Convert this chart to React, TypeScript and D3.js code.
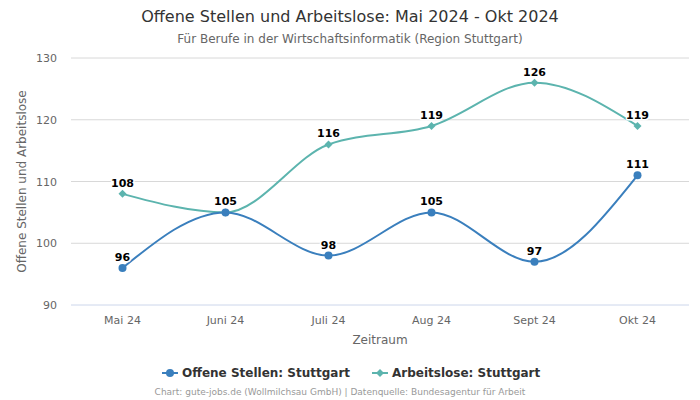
import React from "react";
import * as d3 from "d3";

const categories = ["Mai 24", "Juni 24", "Juli 24", "Aug 24", "Sept 24", "Okt 24"];
const offeneStellen = [96, 105, 98, 105, 97, 111];
const arbeitslose = [108, 105, 116, 119, 126, 119];
const yTicks = [90, 100, 110, 120, 130];

const W = 700, H = 400;
const left = 71, right = 689, top = 58, bottom = 305;
const font = "DejaVu Sans, sans-serif";
const blue = "#3a7fbd";
const teal = "#5cb4ae";

export default function App() {
  const x = d3.scaleBand().domain(categories).range([left, right]);
  const y = d3.scaleLinear().domain([90, 130]).range([bottom, top]);
  const cx = (c: string) => (x(c) as number) + x.bandwidth() / 2;
  const line = d3
    .line<number>()
    .x((_, i) => cx(categories[i]))
    .y((d) => y(d))
    .curve(d3.curveMonotoneX);

  const labelStyle: React.CSSProperties = {
    fontFamily: font,
    fontSize: 11,
    fontWeight: "bold",
    fill: "#000",
    stroke: "#fff",
    strokeWidth: 3,
    paintOrder: "stroke",
    strokeLinejoin: "round",
  };

  return (
    <svg width={W} height={H} style={{ position: "absolute", left: 0, top: 0 }}>
      <rect width={W} height={H} fill="#fff" />
      <text x={350} y={22} textAnchor="middle" fontFamily={font} fontSize={16} fill="#333">
        Offene Stellen und Arbeitslose: Mai 2024 - Okt 2024
      </text>
      <text x={350} y={43} textAnchor="middle" fontFamily={font} fontSize={12} fill="#666">
        Für Berufe in der Wirtschaftsinformatik (Region Stuttgart)
      </text>
      {yTicks.map((t) => (
        <g key={t}>
          <line x1={left} x2={right} y1={y(t)} y2={y(t)} stroke={t === 90 ? "#ccd6eb" : "#d8d8d8"} strokeWidth={1} />
          <text x={57} y={y(t) + 4} textAnchor="end" fontFamily={font} fontSize={11} fill="#666">
            {t}
          </text>
        </g>
      ))}
      {categories.map((c) => (
        <text key={c} x={cx(c)} y={324} textAnchor="middle" fontFamily={font} fontSize={11} fill="#666">
          {c}
        </text>
      ))}
      <text x={380} y={344} textAnchor="middle" fontFamily={font} fontSize={12} fill="#666">
        Zeitraum
      </text>
      <text
        transform={`translate(26,${(top + bottom) / 2}) rotate(-90)`}
        textAnchor="middle"
        fontFamily={font}
        fontSize={12}
        fill="#666"
      >
        Offene Stellen und Arbeitslose
      </text>

      <path d={line(arbeitslose) || ""} fill="none" stroke={teal} strokeWidth={2} />
      <path d={line(offeneStellen) || ""} fill="none" stroke={blue} strokeWidth={2} />
      {arbeitslose.map((v, i) => {
        const px = cx(categories[i]), py = y(v);
        return (
          <path key={"a" + i} d={`M${px},${py - 4}L${px + 4},${py}L${px},${py + 4}L${px - 4},${py}Z`} fill={teal} />
        );
      })}
      {offeneStellen.map((v, i) => (
        <circle key={"o" + i} cx={cx(categories[i])} cy={y(v)} r={4} fill={blue} />
      ))}
      {arbeitslose.map((v, i) =>
        offeneStellen[i] === v ? null : (
          <text key={"al" + i} x={cx(categories[i])} y={y(v) - 7} textAnchor="middle" style={labelStyle}>
            {v}
          </text>
        )
      )}
      {offeneStellen.map((v, i) => (
        <text key={"ol" + i} x={cx(categories[i])} y={y(v) - 7} textAnchor="middle" style={labelStyle}>
          {v}
        </text>
      ))}

      <g>
        <line x1={162} x2={178} y1={373} y2={373} stroke={blue} strokeWidth={2} />
        <circle cx={170} cy={373} r={4} fill={blue} />
        <text x={182} y={377} fontFamily={font} fontSize={12} fontWeight="bold" fill="#333">
          Offene Stellen: Stuttgart
        </text>
        <line x1={372} x2={388} y1={373} y2={373} stroke={teal} strokeWidth={2} />
        <path d="M380,369L384,373L380,377L376,373Z" fill={teal} />
        <text x={392} y={377} fontFamily={font} fontSize={12} fontWeight="bold" fill="#333">
          Arbeitslose: Stuttgart
        </text>
      </g>
      <text x={340} y={395} textAnchor="middle" fontFamily={font} fontSize={9} fill="#999">
        Chart: gute-jobs.de (Wollmilchsau GmbH) | Datenquelle: Bundesagentur für Arbeit
      </text>
    </svg>
  );
}
